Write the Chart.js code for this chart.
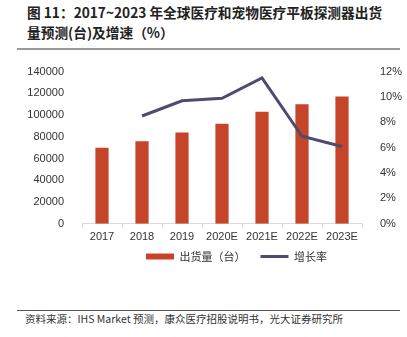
<!DOCTYPE html>
<html>
<head>
<meta charset="utf-8">
<script src="https://cdn.jsdelivr.net/npm/chart.js@4.4.1/dist/chart.umd.min.js"></script>
<style>
  html, body { margin: 0; padding: 0; background: #fff; }
  body { width: 407px; height: 337px; position: relative; overflow: hidden; }
  #title {
    position: absolute; left: 27px; top: 2px; width: 375px;
    font-family: "Noto Sans CJK SC", sans-serif; font-weight: bold;
    font-size: 13.7px; line-height: 20px; color: #222;
  }
  #titleRule { position: absolute; left: 17px; top: 48px; width: 383px; height: 2px; background: #999; }
  #chartBox { position: absolute; left: 0; top: 55px; width: 407px; height: 228px; }
  #srcRule { position: absolute; left: 17px; top: 310px; width: 383px; height: 1px; background: #555; }
  #source {
    position: absolute; left: 25px; top: 312px;
    font-family: "Noto Sans CJK SC", sans-serif; font-size: 10.5px; line-height: 13px; color: #333;
  }
</style>
</head>
<body>
<div id="title">图 11：2017~2023 年全球医疗和宠物医疗平板探测器出货<br>量预测(台)及增速（%）</div>
<div id="titleRule"></div>
<div id="chartBox"><canvas id="c"></canvas></div>
<div id="srcRule"></div>
<div id="source">资料来源：IHS Market 预测，康众医疗招股说明书，光大证券研究所</div>
<script>
// Years on the category axis
const years = ['2017', '2018', '2019', '2020E', '2021E', '2022E', '2023E'];
// Shipments (units)
const shipments = [70000, 76000, 84000, 92000, 103000, 110000, 117000];
// Year-on-year growth (%)
const growth = [null, 8.5, 9.7, 9.9, 11.5, 6.9, 6.1];
// Axis ranges
const leftMax = 140000, leftStep = 20000;
const rightMax = 12, rightStep = 2;

const tickFont = { family: '"Liberation Sans", Arial, sans-serif', size: 11 };

// Nudges the legend row up and to the right, under the plot
const legendShift = {
  id: 'legendShift',
  afterLayout(chart) {
    const lg = chart.legend;
    if (lg) {
      lg.left += 33; lg.right += 33;
      lg.top -= 11; lg.bottom -= 11;
    }
  }
};

new Chart(document.getElementById('c'), {
  type: 'bar',
  data: {
    labels: years,
    datasets: [
      {
        label: '出货量（台）',
        data: shipments,
        backgroundColor: '#C6442A',
        borderWidth: 0,
        yAxisID: 'y',
        categoryPercentage: 1,
        barPercentage: 0.33,
        pointStyle: 'rect',
        order: 2
      },
      {
        type: 'line',
        label: '增长率',
        data: growth,
        borderColor: '#4E4B6F',
        backgroundColor: '#4E4B6F',
        borderWidth: 3,
        pointRadius: 0,
        pointStyle: 'line',
        tension: 0,
        yAxisID: 'y1',
        order: 1
      }
    ]
  },
  plugins: [legendShift],
  options: {
    responsive: true,
    maintainAspectRatio: false,
    animation: false,
    devicePixelRatio: 1,
    layout: { padding: { top: 14, left: 0, right: 0, bottom: 0 } },
    plugins: {
      tooltip: { enabled: false },
      legend: {
        position: 'bottom',
        labels: {
          usePointStyle: true,
          pointStyleWidth: 28,
          boxHeight: 6,
          padding: 15,
          color: '#333',
          font: { family: '"Noto Sans CJK SC", sans-serif', size: 11 },
          sort: (a, b) => a.datasetIndex - b.datasetIndex
        }
      }
    },
    scales: {
      x: {
        grid: { display: true, drawOnChartArea: false, offset: true, tickLength: 4, color: '#d9d9d9' },
        border: { display: true, color: '#d9d9d9' },
        ticks: { color: '#333', font: tickFont, padding: 3, maxRotation: 0 }
      },
      y: {
        position: 'left',
        min: 0, max: leftMax,
        grid: { display: false },
        border: { display: false },
        ticks: { stepSize: leftStep, color: '#333', font: tickFont, padding: 10, callback: v => String(v) },
        afterFit(scale) { scale.width = 82; }
      },
      y1: {
        position: 'right',
        min: 0, max: rightMax,
        grid: { display: false },
        border: { display: false },
        ticks: { stepSize: rightStep, color: '#333', font: tickFont, padding: 10, callback: v => v + '%' },
        afterFit(scale) { scale.width = 45; }
      }
    }
  }
});
</script>
</body>
</html>
